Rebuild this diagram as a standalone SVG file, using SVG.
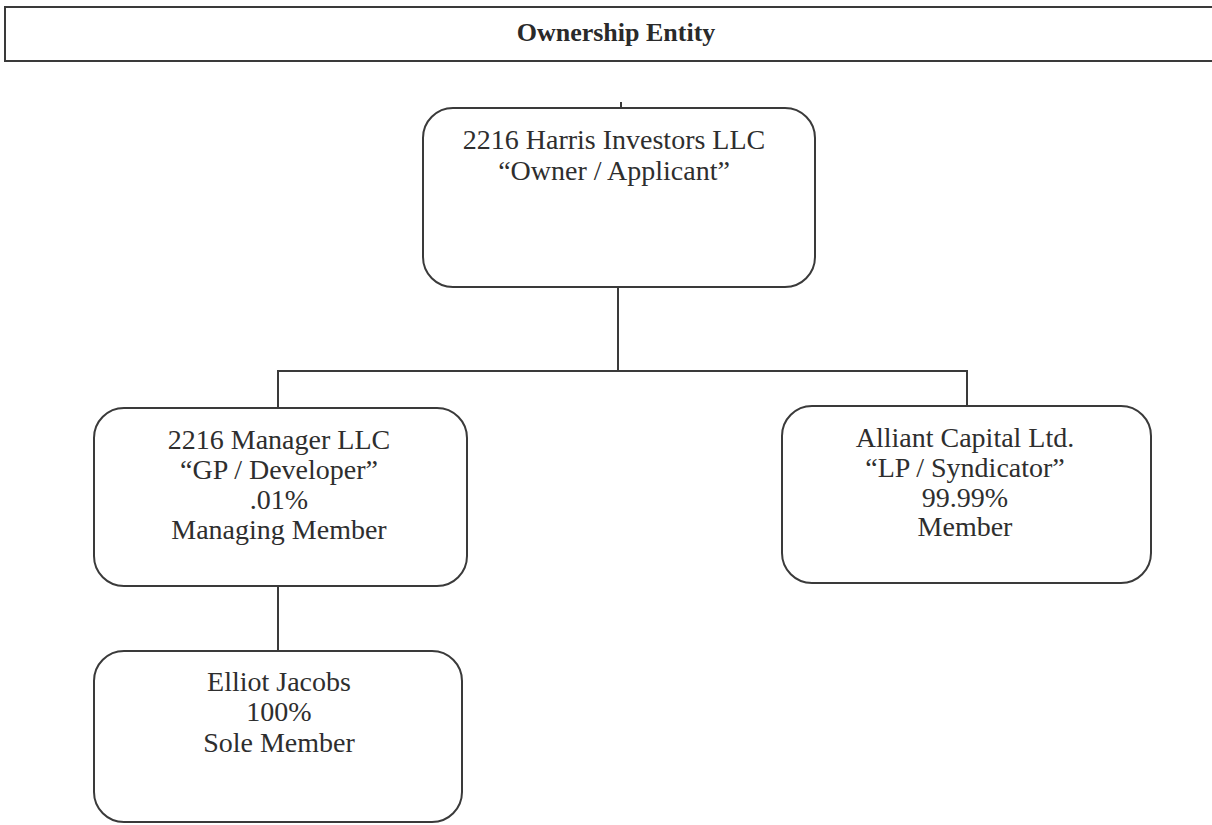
<svg xmlns="http://www.w3.org/2000/svg" width="1212" height="825" viewBox="0 0 1212 825">
<style>
.box{fill:#fff;stroke:#3a3a3a;stroke-width:2}
.t{font-family:"Liberation Serif","Times New Roman",serif;font-size:28px;fill:#2e2e2e;text-anchor:middle}
.h{font-family:"Liberation Serif","Times New Roman",serif;font-size:26px;font-weight:bold;fill:#2a2a2a;text-anchor:middle}
.c{fill:none;stroke:#3a3a3a;stroke-width:2}
</style>
<rect width="1212" height="825" fill="#fff"/>
<g id="header">
<rect class="box" x="5" y="7" width="1220" height="54"/>
<text class="h" x="616" y="41">Ownership Entity</text>
</g>
<g id="connectors">
<line class="c" x1="621" y1="102" x2="621" y2="109"/>
<polyline class="c" points="618,287 618,371"/>
<polyline class="c" points="278,408 278,371 967,371 967,406"/>
<line class="c" x1="278" y1="586" x2="278" y2="651"/>
</g>
<g id="owner">
<rect class="box" x="423" y="108" width="392" height="179" rx="30"/>
<text class="t" x="614" y="149">2216 Harris Investors LLC</text>
<text class="t" x="614" y="180">“Owner / Applicant”</text>
</g>
<g id="manager">
<rect class="box" x="94" y="408" width="373" height="178" rx="30"/>
<text class="t" x="279" y="449">2216 Manager LLC</text>
<text class="t" x="279" y="479">“GP / Developer”</text>
<text class="t" x="279" y="509">.01%</text>
<text class="t" x="279" y="539">Managing Member</text>
</g>
<g id="alliant">
<rect class="box" x="782" y="406" width="369" height="177" rx="30"/>
<text class="t" x="965" y="447">Alliant Capital Ltd.</text>
<text class="t" x="965" y="477">“LP / Syndicator”</text>
<text class="t" x="965" y="507">99.99%</text>
<text class="t" x="965" y="536">Member</text>
</g>
<g id="jacobs">
<rect class="box" x="94" y="651" width="368" height="171" rx="30"/>
<text class="t" x="279" y="691">Elliot Jacobs</text>
<text class="t" x="279" y="721">100%</text>
<text class="t" x="279" y="752">Sole Member</text>
</g>
</svg>
